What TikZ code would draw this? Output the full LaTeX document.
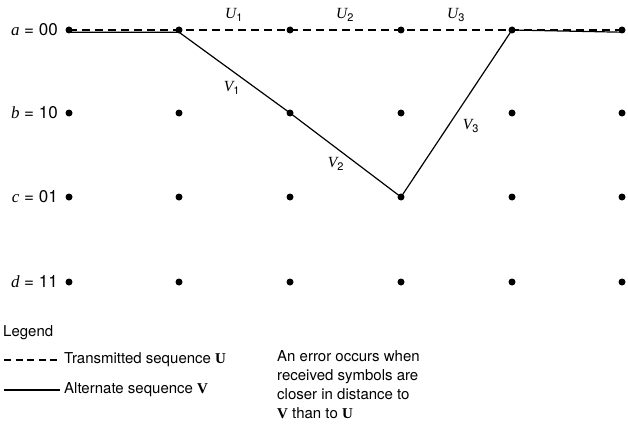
\documentclass[tikz,border=0pt]{standalone}
\usepackage{fontspec}
\setmainfont{TeX Gyre Heros}
\newfontfamily\srf{Liberation Serif}
\newcommand{\vi}[1]{{\srf\itshape #1}}
\newcommand{\vb}[1]{{\srf\bfseries #1}}
\newcommand{\sbs}[1]{\textsubscript{\fontsize{11}{11}\selectfont #1}}
\begin{document}
\begin{tikzpicture}[x=1pt,y=-1pt,
  dot/.style={circle,fill=black,inner sep=0pt,minimum size=7pt},
  lbl/.style={font=\fontsize{15.5}{17}\selectfont,inner sep=1pt},
  rowlbl/.style={font=\fontsize{17}{19}\selectfont,inner sep=1pt,anchor=east},
  txt/.style={font=\fontsize{15}{20}\selectfont,inner sep=0pt,anchor=west},
  dashline/.style={dash pattern=on 8pt off 5pt,line width=1.2pt},
  solidline/.style={line width=1.2pt}]
\useasboundingbox (0,0) rectangle (628,425);
\foreach \r/\yy in {0/30,1/113,2/197,3/282}{
  \foreach \c/\xx in {0/69,1/179,2/290,3/401,4/512,5/622}{
    \node[dot] (n\r\c) at (\xx,\yy) {};
  }
}
\node[rowlbl] (la) at (59,30) {\vi{a} = 00};
\node[rowlbl] (lb) at (59,113) {\vi{b} = 10};
\node[rowlbl] (lc) at (59,197) {\vi{c} = 01};
\node[rowlbl] (ld) at (59,282) {\vi{d} = 11};
% transmitted
\draw[dashline] (n00.center) -- (n05.center);
% alternate
\draw[solidline] ([yshift=-2.2pt]n00.center) -- ([yshift=-2.2pt]n01.center) -- (n12.center) -- (n23.center) -- (n04.center) -- ([yshift=-2.2pt]n05.center);
% labels
\node[lbl] (u1) at (234,15) {\vi{U}\sbs{1}};
\node[lbl] (u2) at (345,15) {\vi{U}\sbs{2}};
\node[lbl] (u3) at (456,15) {\vi{U}\sbs{3}};
\node[lbl] (v1) at (232,88) {\vi{V}\sbs{1}};
\node[lbl] (v2) at (336,164) {\vi{V}\sbs{2}};
\node[lbl] (v3) at (471,126) {\vi{V}\sbs{3}};
% legend
\node[txt] (leg) at (3,333) {Legend};
\coordinate (d0) at (4,360);
\coordinate (d1) at (60,360);
\draw[dash pattern=on 7pt off 4.5pt,line width=1.1pt] (d0) -- (d1);
\node[txt] (t1) at (64,360) {Transmitted sequence \vb{U}};
\coordinate (s0) at (4,390);
\coordinate (s1) at (60,390);
\draw[line width=1.1pt] (s0) -- (s1);
\node[txt] (t2) at (64,390) {Alternate sequence \vb{V}};
\node[txt,anchor=north west,align=left,font=\fontsize{15}{19.2}\selectfont] (err) at (277,350)
  {An error occurs when\\received symbols are\\closer in distance to\\\vb{V} than to \vb{U}};
\end{tikzpicture}
\end{document}
